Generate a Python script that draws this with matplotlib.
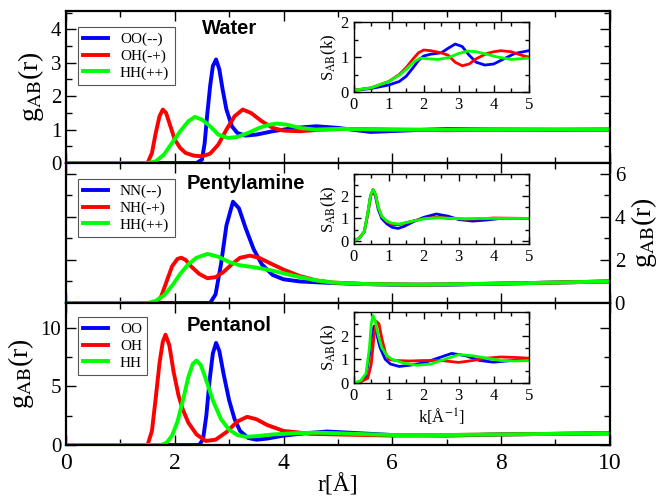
import matplotlib
matplotlib.use('Agg')
import matplotlib.pyplot as plt
from matplotlib.ticker import MultipleLocator

plt.rcParams['font.family'] = ['Liberation Serif', 'DejaVu Serif']
plt.rcParams['mathtext.fontset'] = 'stix'

BLUE, RED, GREEN = '#0000ff', '#ff0000', '#00ff00'

# ---- g(r) : Water
w_oo_r = [0, 2.40, 2.50, 2.55, 2.60, 2.65, 2.70, 2.76, 2.82, 2.88, 2.95, 3.05, 3.15, 3.3, 3.5, 3.8, 4.2, 4.6, 5.0, 5.6, 6.2, 7.0, 8.0, 9.0, 10]
w_oo_g = [0, 0, 0.1, 0.6, 1.5, 2.3, 2.9, 3.1, 2.8, 2.2, 1.6, 1.1, 0.9, 0.82, 0.85, 0.95, 1.05, 1.1, 1.05, 0.93, 0.97, 1.02, 1.0, 0.99, 1.0]
w_oh_r = [0, 1.50, 1.58, 1.65, 1.72, 1.78, 1.84, 1.92, 2.0, 2.1, 2.2, 2.35, 2.5, 2.65, 2.8, 2.95, 3.1, 3.25, 3.4, 3.6, 3.8, 4.0, 4.3, 4.7, 5.2, 6, 7, 8, 9, 10]
w_oh_g = [0, 0, 0.3, 0.9, 1.4, 1.6, 1.5, 1.1, 0.7, 0.45, 0.3, 0.22, 0.2, 0.28, 0.55, 1.0, 1.4, 1.6, 1.5, 1.25, 1.05, 0.97, 0.95, 1.0, 1.02, 1.0, 0.98, 1.0, 1.0, 1.0]
w_hh_r = [0, 1.5, 1.65, 1.8, 1.95, 2.1, 2.25, 2.37, 2.5, 2.65, 2.8, 2.98, 3.15, 3.35, 3.55, 3.75, 3.88, 4.05, 4.3, 4.6, 5, 6, 7, 8, 9, 10]
w_hh_g = [0, 0, 0.05, 0.25, 0.6, 0.95, 1.25, 1.38, 1.3, 1.1, 0.85, 0.75, 0.78, 0.9, 1.05, 1.15, 1.18, 1.15, 1.05, 1.0, 1.02, 1.0, 1.0, 1.0, 1.0, 1.0]

# ---- g(r) : Pentylamine
p_nn_r = [0, 2.65, 2.75, 2.85, 2.95, 3.07, 3.18, 3.3, 3.45, 3.6, 3.8, 4.0, 4.3, 4.7, 5.2, 6, 7, 8, 9, 10]
p_nn_g = [0, 0, 0.4, 1.8, 3.6, 4.7, 4.4, 3.5, 2.5, 1.8, 1.3, 1.1, 1.0, 0.95, 0.9, 0.85, 0.85, 0.9, 0.95, 1.0]
p_nh_r = [0, 1.65, 1.75, 1.85, 1.95, 2.05, 2.12, 2.2, 2.3, 2.45, 2.6, 2.75, 2.9, 3.05, 3.2, 3.38, 3.55, 3.75, 4.0, 4.3, 4.6, 4.9, 5.5, 6.5, 8, 9, 10]
p_nh_g = [0, 0, 0.3, 1.0, 1.7, 2.05, 2.1, 2.0, 1.7, 1.35, 1.15, 1.2, 1.45, 1.8, 2.1, 2.2, 2.1, 1.85, 1.55, 1.25, 1.05, 0.95, 0.88, 0.85, 0.9, 0.95, 1.0]
p_hh_r = [0, 1.5, 1.65, 1.8, 1.95, 2.1, 2.25, 2.4, 2.6, 2.8, 3.0, 3.2, 3.4, 3.6, 3.8, 4.0, 4.3, 4.6, 4.9, 5.5, 6.5, 8, 9, 10]
p_hh_g = [0, 0, 0.1, 0.35, 0.8, 1.35, 1.8, 2.1, 2.28, 2.15, 1.9, 1.75, 1.68, 1.6, 1.5, 1.38, 1.2, 1.05, 0.95, 0.88, 0.85, 0.9, 0.95, 1.0]

# ---- g(r) : Pentanol
o_oo_r = [0, 2.45, 2.52, 2.58, 2.64, 2.7, 2.76, 2.82, 2.9, 3.0, 3.1, 3.2, 3.35, 3.5, 3.7, 4.0, 4.4, 4.8, 5.2, 6, 7, 8, 9, 10]
o_oo_g = [0, 0, 0.5, 2.5, 5.5, 7.8, 8.7, 8.0, 6.0, 3.8, 2.2, 1.2, 0.6, 0.45, 0.55, 0.8, 1.0, 1.15, 1.05, 0.85, 0.8, 0.9, 0.95, 1.0]
o_oh_r = [0, 1.5, 1.58, 1.65, 1.72, 1.78, 1.83, 1.9, 1.98, 2.07, 2.15, 2.25, 2.4, 2.57, 2.75, 2.95, 3.15, 3.33, 3.5, 3.7, 4.0, 4.5, 5.0, 6, 7, 8, 9, 10]
o_oh_g = [0, 0, 1.2, 4.0, 7.0, 8.8, 9.4, 8.5, 6.2, 4.2, 3.0, 1.9, 0.9, 0.35, 0.45, 1.1, 2.0, 2.4, 2.2, 1.7, 1.2, 0.95, 0.9, 0.8, 0.85, 0.9, 0.95, 1.0]
o_hh_r = [0, 1.75, 1.85, 1.95, 2.05, 2.15, 2.25, 2.33, 2.4, 2.48, 2.58, 2.7, 2.85, 3.0, 3.15, 3.3, 3.5, 3.8, 4.2, 4.6, 5.0, 6, 7, 8, 9, 10]
o_hh_g = [0, 0, 0.2, 0.8, 2.0, 3.8, 5.8, 6.9, 7.2, 6.8, 5.5, 3.8, 2.2, 1.3, 0.85, 0.7, 0.75, 0.9, 1.0, 1.05, 1.0, 0.85, 0.85, 0.9, 0.95, 1.0]

# ---- S(k) insets
sw_oo_k = [0, 0.5, 1.0, 1.3, 1.5, 1.7, 1.85, 2.0, 2.2, 2.5, 2.7, 2.9, 3.1, 3.3, 3.5, 3.75, 4.0, 4.3, 4.6, 5.0]
sw_oo_s = [0.05, 0.1, 0.2, 0.3, 0.45, 0.7, 0.9, 1.03, 1.08, 1.12, 1.25, 1.37, 1.3, 1.05, 0.85, 0.77, 0.8, 0.95, 1.1, 1.18]
sw_oh_k = [0, 0.5, 1.0, 1.3, 1.5, 1.7, 1.85, 2.0, 2.2, 2.5, 2.7, 2.9, 3.1, 3.3, 3.5, 3.8, 4.0, 4.2, 4.5, 4.8, 5.0]
sw_oh_s = [0.05, 0.12, 0.3, 0.5, 0.7, 0.95, 1.12, 1.2, 1.18, 1.12, 1.05, 0.85, 0.75, 0.8, 0.95, 1.1, 1.15, 1.18, 1.15, 1.05, 1.0]
sw_hh_k = [0, 0.5, 1.0, 1.3, 1.5, 1.7, 1.9, 2.1, 2.4, 2.7, 3.0, 3.26, 3.5, 3.8, 4.1, 4.5, 5.0]
sw_hh_s = [0.05, 0.12, 0.3, 0.48, 0.65, 0.85, 0.97, 0.95, 0.93, 0.98, 1.1, 1.17, 1.15, 1.08, 1.0, 0.93, 0.97]

sp_nn_k = [0, 0.15, 0.3, 0.4, 0.48, 0.55, 0.62, 0.7, 0.8, 0.95, 1.1, 1.27, 1.45, 1.7, 2.0, 2.36, 2.7, 3.0, 3.4, 3.8, 4.2, 5.0]
sp_nn_s = [0.0, 0.1, 0.4, 1.2, 2.0, 2.27, 2.0, 1.4, 1.0, 0.75, 0.6, 0.55, 0.65, 0.85, 1.05, 1.2, 1.1, 0.95, 0.88, 0.93, 1.0, 1.0]
sp_nh_k = [0, 0.15, 0.3, 0.4, 0.48, 0.55, 0.62, 0.7, 0.8, 0.95, 1.1, 1.3, 1.6, 2.0, 2.4, 2.8, 3.2, 3.6, 4.0, 5.0]
sp_nh_s = [0.0, 0.1, 0.4, 1.2, 2.0, 2.3, 2.1, 1.5, 1.1, 0.85, 0.72, 0.72, 0.85, 1.0, 1.05, 1.0, 0.97, 0.98, 1.02, 1.0]
sp_hh_k = [0, 0.15, 0.3, 0.4, 0.48, 0.55, 0.62, 0.7, 0.8, 0.95, 1.1, 1.3, 1.6, 2.0, 2.4, 2.8, 3.2, 3.6, 4.0, 5.0]
sp_hh_s = [0.0, 0.1, 0.4, 1.25, 2.05, 2.3, 2.1, 1.5, 1.1, 0.88, 0.78, 0.75, 0.85, 0.98, 1.03, 1.0, 0.98, 1.0, 1.0, 1.0]

so_oo_k = [0, 0.2, 0.35, 0.45, 0.52, 0.58, 0.65, 0.75, 0.9, 1.05, 1.3, 1.6, 2.0, 2.4, 2.8, 3.2, 3.6, 4.0, 4.5, 5.0]
so_oo_s = [0.0, 0.05, 0.3, 1.2, 2.1, 2.4, 2.1, 1.5, 1.0, 0.8, 0.7, 0.75, 0.85, 1.05, 1.25, 1.15, 0.95, 0.88, 0.95, 1.0]
so_oh_k = [0, 0.2, 0.4, 0.5, 0.58, 0.65, 0.72, 0.8, 0.9, 1.0, 1.2, 1.6, 2.0, 2.5, 3.0, 3.4, 3.8, 4.2, 4.6, 5.0]
so_oh_s = [0.0, 0.05, 0.2, 0.8, 2.0, 2.6, 2.5, 1.9, 1.3, 1.0, 0.95, 0.93, 0.95, 0.95, 0.87, 0.95, 1.05, 1.1, 1.08, 1.05]
so_hh_k = [0, 0.2, 0.35, 0.45, 0.5, 0.55, 0.62, 0.7, 0.8, 0.95, 1.1, 1.4, 1.8, 2.2, 2.6, 3.0, 3.4, 3.8, 4.2, 4.6, 5.0]
so_hh_s = [0.0, 0.1, 0.4, 1.5, 2.5, 2.85, 2.6, 2.0, 1.5, 1.15, 1.0, 0.85, 0.75, 0.8, 1.0, 1.2, 1.15, 1.05, 0.95, 0.93, 0.95]

titles = ['Water', 'Pentylamine', 'Pentanol']
labels_w = ['OO(--)', 'OH(-+)', 'HH(++)']
labels_p = ['NN(--)', 'NH(-+)', 'HH(++)']
labels_o = ['OO', 'OH', 'HH']

fig = plt.figure(figsize=(6.6, 5.0), dpi=100)

L, W = 0.1, 0.824
ax1 = fig.add_axes([L, 0.674, W, 0.304])
ax2 = fig.add_axes([L, 0.394, W, 0.280])
ax3 = fig.add_axes([L, 0.110, W, 0.284])


def style(ax, major, minor, lw=1.6, size=15, L1=7, L2=4.5):
    ax.xaxis.set_major_locator(MultipleLocator(major[0]))
    ax.xaxis.set_minor_locator(MultipleLocator(minor[0]))
    ax.yaxis.set_major_locator(MultipleLocator(major[1]))
    ax.yaxis.set_minor_locator(MultipleLocator(minor[1]))
    ax.tick_params(which='both', direction='in', top=True, right=True, width=1)
    ax.tick_params(which='major', length=L1, labelsize=size)
    ax.tick_params(which='minor', length=L2)
    for s in ax.spines.values():
        s.set_linewidth(lw)


# main panels
panels = [
    (ax1, [(w_oo_r, w_oo_g), (w_oh_r, w_oh_g), (w_hh_r, w_hh_g)], labels_w, 4.55, (2, 1), (1, 0.5), 0.895, (0.30, 0.885)),
    (ax2, [(p_nn_r, p_nn_g), (p_nh_r, p_nh_g), (p_hh_r, p_hh_g)], labels_p, 6.5, (2, 2), (1, 1), 0.886, (0.33, 0.855)),
    (ax3, [(o_oo_r, o_oo_g), (o_oh_r, o_oh_g), (o_hh_r, o_hh_g)], labels_o, 12.1, (2, 5), (1, 2.5), 0.90, (0.30, 0.845)),
]
for i, (ax, series, labs, ytop, maj, mnr, ly, tpos) in enumerate(panels):
    for (x, y), c, lab in zip(series, [BLUE, RED, GREEN], labs):
        ax.plot(x, y, color=c, lw=2.8, label=lab)
    ax.set_xlim(0, 10)
    ax.set_ylim(0, ytop)
    style(ax, maj, mnr)
    ax.text(tpos[0], tpos[1], titles[i], transform=ax.transAxes, ha='center', va='center',
            fontsize=14.5, fontweight='bold', family='Liberation Sans')
    leg = ax.legend(loc='upper left', bbox_to_anchor=(0.022, ly), borderaxespad=0,
                    fancybox=False, edgecolor='#555555', framealpha=1, fontsize=11,
                    handlelength=1.6, handletextpad=0.8, borderpad=0.35, labelspacing=0.2)
    leg.get_frame().set_linewidth(0.8)
    if i < 2:
        ax.tick_params(labelbottom=False)

ax1.set_ylabel(r'g$_{\rm AB}$(r)', fontsize=20, labelpad=3)
ax3.set_ylabel(r'g$_{\rm AB}$(r)', fontsize=20, labelpad=3)
ax1.set_yticks([0, 1, 2, 3, 4])
ax2.tick_params(labelleft=False, labelright=True)
ax2.yaxis.set_label_position('right')
ax2.set_ylabel(r'g$_{\rm AB}$(r)', fontsize=20, labelpad=3)
ax3.tick_params(axis='x', labelsize=17, pad=6)
ax3.set_xlabel('r[Å]', fontsize=17, labelpad=0)

# insets
il, iw = 0.536, 0.265
ins = [
    (fig.add_axes([il, 0.816, iw, 0.140]), [(sw_oo_k, sw_oo_s), (sw_oh_k, sw_oh_s), (sw_hh_k, sw_hh_s)], (0, 2)),
    (fig.add_axes([il, 0.512, iw, 0.140]), [(sp_nn_k, sp_nn_s), (sp_nh_k, sp_nh_s), (sp_hh_k, sp_hh_s)], (-0.15, 3.0)),
    (fig.add_axes([il, 0.234, iw, 0.142]), [(so_oo_k, so_oo_s), (so_oh_k, so_oh_s), (so_hh_k, so_hh_s)], (0, 3.0)),
]
for ax, series, yl in ins:
    for (x, y), c in zip(series, [BLUE, RED, GREEN]):
        ax.plot(x, y, color=c, lw=2.0)
    ax.set_xlim(0, 5)
    ax.set_ylim(*yl)
    style(ax, (1, 1), (0.5, 0.5), lw=1.0, size=12, L1=5, L2=3)
    ax.set_yticks([0, 1, 2])
    ax.set_ylabel(r'S$_{\rm AB}$(k)', fontsize=12, labelpad=1)
ins[2][0].set_xlabel(r'k[Å$^{-1}$]', fontsize=12, labelpad=2)

fig.savefig('out.png', dpi=100)
